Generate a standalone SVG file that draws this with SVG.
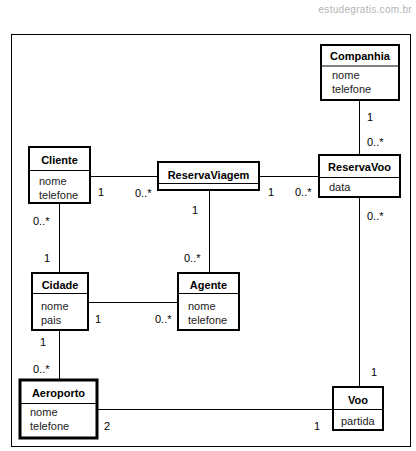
<svg xmlns="http://www.w3.org/2000/svg" width="416" height="451" viewBox="0 0 416 451">
<style>
.box{fill:#fff;stroke:#000;stroke-width:2}
.thick{stroke-width:3}
.div{stroke:#000;stroke-width:1}
.ln{stroke:#000;stroke-width:1;fill:none}
text{font-family:"Liberation Sans",Arial,sans-serif;font-size:11px;fill:#000}
.t{font-weight:bold;text-anchor:middle}
.m{fill:#222}
.wm{font-size:10px;fill:#b4b4b4;letter-spacing:0.3px}
</style>
<rect width="416" height="451" fill="#fff"/>
<text class="wm" x="412" y="13" text-anchor="end">estudegratis.com.br</text>
<g id="frame" class="ln">
<line x1="11" y1="34.5" x2="411" y2="34.5"/>
<line x1="11.5" y1="34" x2="11.5" y2="447"/>
<line x1="410.5" y1="34" x2="410.5" y2="447"/>
<line x1="11" y1="446.5" x2="411" y2="446.5"/>
</g>
<g id="connectors" class="ln">
<line x1="359.5" y1="100" x2="359.5" y2="155"/>
<line x1="90" y1="176.5" x2="158" y2="176.5"/>
<line x1="259" y1="176.5" x2="319" y2="176.5"/>
<line x1="209.5" y1="190" x2="209.5" y2="273"/>
<line x1="59.5" y1="203" x2="59.5" y2="273"/>
<line x1="359.5" y1="197" x2="359.5" y2="387"/>
<line x1="88" y1="302.5" x2="178" y2="302.5"/>
<line x1="59.5" y1="330" x2="59.5" y2="380"/>
<line x1="97" y1="409.5" x2="333" y2="409.5"/>
</g>
<g id="labels">
<text x="367" y="121">1</text>
<text x="367" y="146">0..*</text>
<text x="98" y="196">1</text>
<text x="135" y="197">0..*</text>
<text x="268" y="196">1</text>
<text x="295" y="196">0..*</text>
<text x="192" y="214">1</text>
<text x="184" y="262">0..*</text>
<text x="33" y="225">0..*</text>
<text x="44" y="262">1</text>
<text x="367" y="220">0..*</text>
<text x="371" y="376">1</text>
<text x="95" y="323">1</text>
<text x="155" y="323">0..*</text>
<text x="40" y="346">1</text>
<text x="33" y="373">0..*</text>
<text x="104" y="430">2</text>
<text x="314" y="430">1</text>
</g>
<g id="Companhia">
<rect class="box" x="321" y="45" width="78" height="55"/>
<line class="div" x1="321" y1="66" x2="399" y2="66"/>
<text class="t" x="360" y="60">Companhia</text>
<text class="m" x="332" y="79">nome</text>
<text class="m" x="332" y="93">telefone</text>
</g>
<g id="ReservaVoo">
<rect class="box" x="319" y="155" width="81" height="42"/>
<line class="div" x1="319" y1="177.5" x2="400" y2="177.5"/>
<text class="t" x="359.5" y="171">ReservaVoo</text>
<text class="m" x="329" y="191">data</text>
</g>
<g id="ReservaViagem">
<rect class="box" x="158" y="162" width="101" height="28"/>
<line class="div" x1="158" y1="183.5" x2="259" y2="183.5"/>
<text class="t" x="208.5" y="179">ReservaViagem</text>
</g>
<g id="Cliente">
<rect class="box" x="29" y="147" width="61" height="56"/>
<line class="div" x1="29" y1="170.5" x2="90" y2="170.5"/>
<text class="t" x="59.5" y="164">Cliente</text>
<text class="m" x="39" y="185">nome</text>
<text class="m" x="39" y="199">telefone</text>
</g>
<g id="Cidade">
<rect class="box" x="32" y="273" width="56" height="57"/>
<line class="div" x1="32" y1="293.5" x2="88" y2="293.5"/>
<text class="t" x="60" y="289">Cidade</text>
<text class="m" x="41" y="310">nome</text>
<text class="m" x="41" y="324">pais</text>
</g>
<g id="Agente">
<rect class="box" x="178" y="273" width="61" height="57"/>
<line class="div" x1="178" y1="293.5" x2="239" y2="293.5"/>
<text class="t" x="208.5" y="289">Agente</text>
<text class="m" x="188" y="310">nome</text>
<text class="m" x="188" y="324">telefone</text>
</g>
<g id="Aeroporto">
<rect class="box thick" x="20" y="380" width="77" height="58"/>
<line class="div" x1="20" y1="403.5" x2="97" y2="403.5"/>
<text class="t" x="58.5" y="397">Aeroporto</text>
<text class="m" x="30" y="416">nome</text>
<text class="m" x="30" y="430">telefone</text>
</g>
<g id="Voo">
<rect class="box" x="333" y="387" width="50" height="43"/>
<line class="div" x1="333" y1="409.5" x2="383" y2="409.5"/>
<text class="t" x="358" y="404">Voo</text>
<text class="m" x="341" y="425">partida</text>
</g>
</svg>
